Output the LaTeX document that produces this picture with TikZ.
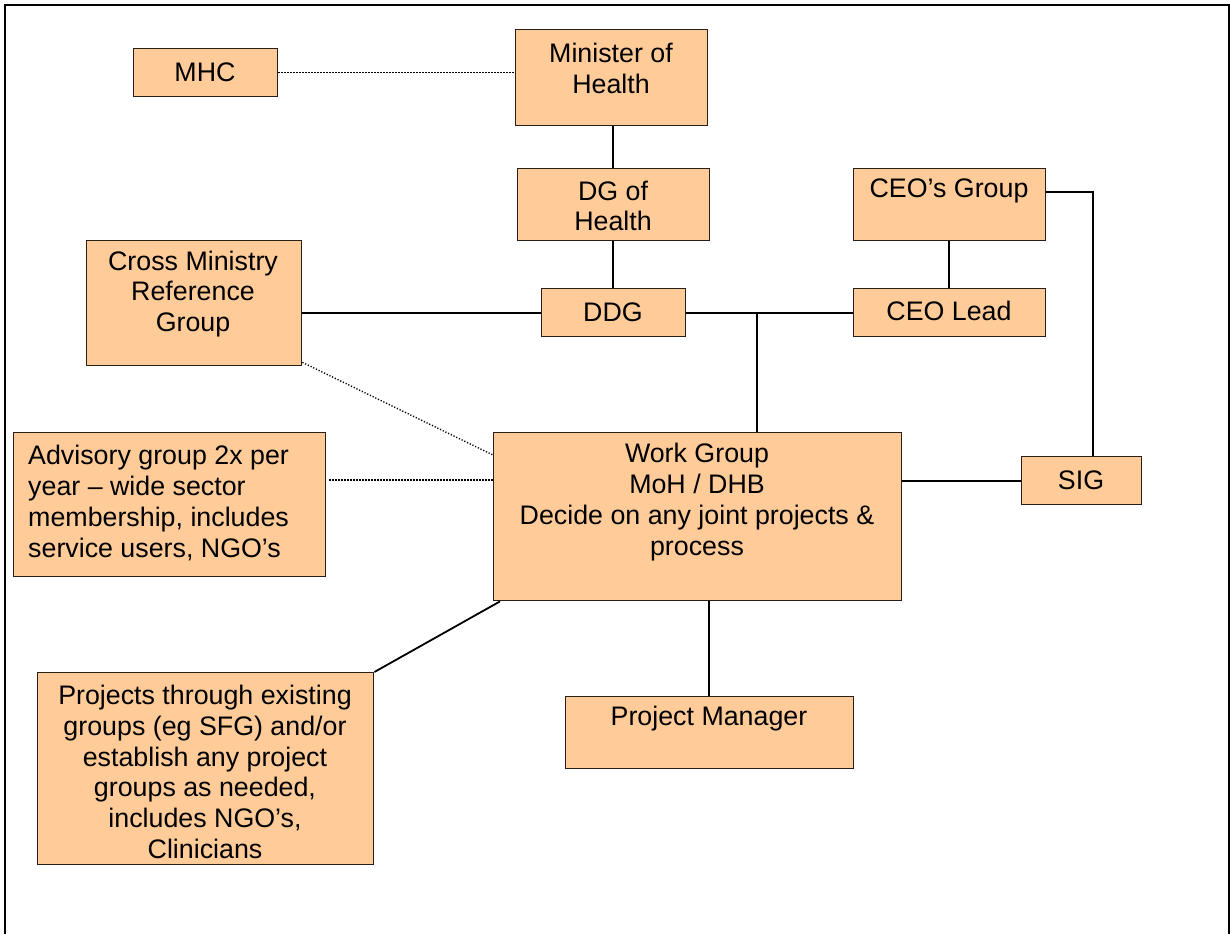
\documentclass[tikz,border=0pt]{standalone}
\usepackage{fontspec}
\setmainfont{Liberation Sans}
\definecolor{peach}{RGB}{255,204,153}
\definecolor{edge}{RGB}{40,32,24}
\begin{document}
\begin{tikzpicture}[x=1pt,y=-1pt,
  box/.style={draw=edge,line width=1.4pt,fill=peach,inner sep=0pt,anchor=north west},
  txt/.style={inner sep=0pt,align=center,font=\fontsize{26.8}{30.8}\selectfont},
  conn/.style={line width=1.8pt,black},
  dot/.style={line width=1.4pt,black,dotted,dash pattern=on 1.2pt off 1.8pt}]
\useasboundingbox (0,0) rectangle (1231,934);
\draw[line width=2.6pt] (5,934) -- (5,5) -- (1229,5) -- (1229,934);
% boxes
\node[box,minimum width=144pt,minimum height=48pt] (mhc) at (133,48) {};
\node[box,minimum width=192pt,minimum height=96pt] (min) at (515,29) {};
\node[box,minimum width=192pt,minimum height=72pt] (dg) at (517,168) {};
\node[box,minimum width=192pt,minimum height=72pt] (ceog) at (853,168) {};
\node[box,minimum width=215pt,minimum height=125pt] (cross) at (86,240) {};
\node[box,minimum width=144pt,minimum height=48pt] (ddg) at (541,288) {};
\node[box,minimum width=192pt,minimum height=48pt] (ceol) at (853,288) {};
\node[box,minimum width=408pt,minimum height=168pt] (wg) at (493,432) {};
\node[box,minimum width=120pt,minimum height=48pt] (sig) at (1021,456) {};
\node[box,minimum width=312pt,minimum height=144pt] (adv) at (13,432) {};
\node[box,minimum width=336pt,minimum height=192pt] (proj) at (37,672) {};
\node[box,minimum width=288pt,minimum height=72pt] (pm) at (565,696) {};
% texts
\node[txt] (mhct) at (205,72) {MHC};
\node[txt] (mint) at (611,68.5) {Minister of\\Health};
\node[txt] (dgt) at (613,206) {DG of\\Health};
\node[txt] (ceogt) at (949,191) {CEO’s Group};
\node[txt] (crosst) at (193,294) {Cross Ministry\\Reference\\Group};
\node[txt] (ddgt) at (613,312) {DDG};
\node[txt] (ceolt) at (949,311) {CEO Lead};
\node[txt] (wgt) at (697,502) {Work Group\\MoH / DHB\\Decide on any joint projects \&\\process};
\node[txt] (sigt) at (1081,480) {SIG};
\node[txt,align=left,anchor=west] (advt) at (28,503) {Advisory group 2x per\\year – wide sector\\membership, includes\\service users, NGO’s};
\begin{scope}
\clip (37,672) rectangle (373,862);
\node[txt] (projt) at (205,772) {Projects through existing\\groups (eg SFG) and/or\\establish any project\\groups as needed,\\includes NGO’s,\\Clinicians};
\end{scope}
\node[txt] (pmt) at (709,719) {Project Manager};
% connectors
\coordinate (j1) at (757,312);
\coordinate (c1) at (1093,192);
\draw[dot] (mhc.east) -- (min.west |- mhc.east);
\draw[conn] (min.south -| 613,0) -- (dg.north -| 613,0);
\draw[conn] (dg.south -| 613,0) -- (ddg.north -| 613,0);
\draw[conn] (cross.east |- ddg.west) -- (ddg.west);
\draw[conn] (ddg.east) -- (ceol.west);
\draw[conn] (j1) -- (wg.north -| j1);
\draw[conn] (ceog.south -| 949,0) -- (ceol.north -| 949,0);
\draw[conn] (ceog.east |- c1) -- (c1) -- (sig.north -| c1);
\draw[conn] (wg.east |- sig.west) -- (sig.west);
\draw[dot] (cross.south east) ++(0,-4) -- (wg.west |- 0,455);
\draw[dot] (adv.east |- 0,480) ++(3,0) -- (wg.west |- 0,480);
\draw[conn] (wg.south west) ++(7,0) -- (proj.north east);
\draw[conn] (wg.south -| 709,0) -- (pm.north -| 709,0);
\end{tikzpicture}
\end{document}
